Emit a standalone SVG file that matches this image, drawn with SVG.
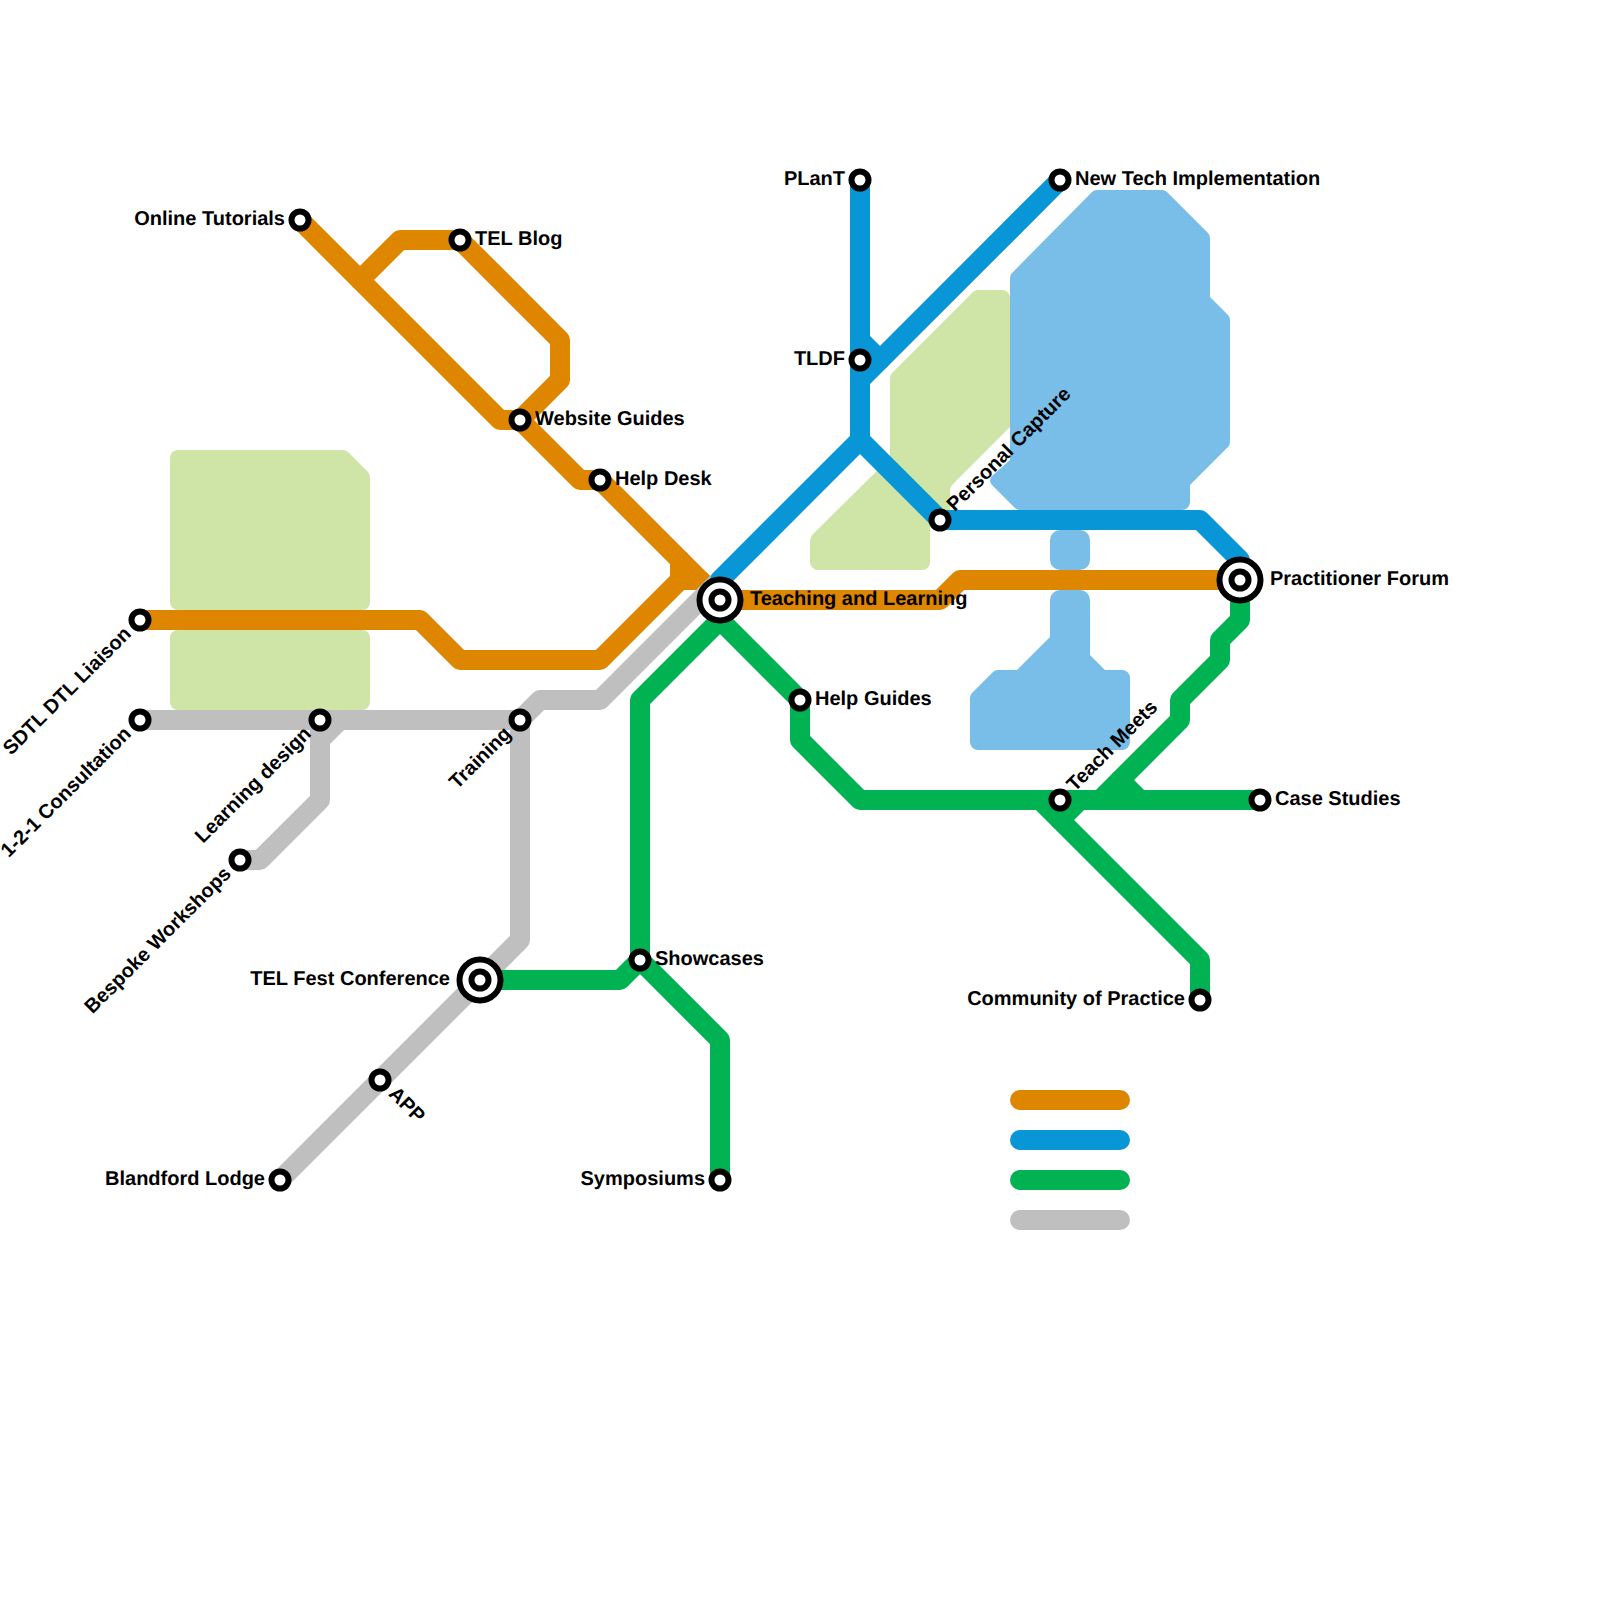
<svg xmlns="http://www.w3.org/2000/svg" width="1600" height="1600" viewBox="0 0 1600 1600">
<style>
.bg-g{fill:#cfe4a7}
.bg-b{fill:#79bde9}
.ln{fill:none;stroke-width:20;stroke-linejoin:round;stroke-linecap:round}
.or{stroke:#df8600}
.bl{stroke:#0896d7}
.gr{stroke:#00b251}
.gy{stroke:#bfbfbf}
.st{fill:#fff;stroke:#000;stroke-width:6}
text{font-family:"Liberation Sans",Arial,sans-serif;font-weight:700;font-size:20px;fill:#000;text-rendering:geometricPrecision}
.e{text-anchor:end}
</style>
<defs>
<g id="small"><circle class="st" r="8.5"/></g>
<g id="big"><circle class="st" r="20.5"/><circle class="st" r="8.5"/></g>
</defs>
<g id="backgrounds">
<path class="bg-g" d="M178,450H343Q346,450 348,452L367,471Q370,474 370,477V602A8,8 0 0 1 362,610H178A8,8 0 0 1 170,602V458A8,8 0 0 1 178,450Z"/>
<rect class="bg-g" x="170" y="630" width="200" height="80" rx="8"/>
<path class="bg-g" d="M973,292Q975,290 978,290H1002A8,8 0 0 1 1010,298V427L953,484Q950,487 950,490V515H930V562A8,8 0 0 1 922,570H818A8,8 0 0 1 810,562V541Q810,537 813,534L890,458V378Q890,375 892,373Z"/>
<path class="bg-b" d="M1092,192Q1094,190 1097,190H1162Q1165,190 1167,192L1208,233Q1210,235 1210,238V297L1228,315Q1230,317 1230,320V442Q1230,445 1228,447L1190,485V502A8,8 0 0 1 1182,510H1020Q1017,510 1015,508L992,485Q988,480 992,476L1010,460V278Q1010,275 1012,273Z"/>
<rect class="bg-b" x="1050" y="530" width="40" height="40" rx="10"/>
<path class="bg-b" d="M1060,590H1080A10,10 0 0 1 1090,600V655L1105,670H1122A8,8 0 0 1 1130,678V742A8,8 0 0 1 1122,750H978A8,8 0 0 1 970,742V698Q970,695 972,693L993,672Q995,670 998,670H1017L1050,637V600A10,10 0 0 1 1060,590Z"/>
</g>
<g id="connectors">
<path class="ln or" d="M140,620H420L460,660H600L680,580V560"/>
<path class="ln or" d="M300,220L500,420H520L580,480H600L720,600"/>
<path class="ln or" d="M680,580H700L720,600H940L960,580H1240"/>
<path class="ln or" d="M360,280L400,240H460L560,340V380L520,420"/>
<path class="ln gy" d="M140,720H520L540,700H600L720,580"/>
<path class="ln gy" d="M520,720V940L280,1180"/>
<path class="ln gy" d="M340,720L320,740V800L260,860H240"/>
<path class="ln gy" d="M320,720V740"/>
<path class="ln bl" d="M860,180V340L880,360L1060,180"/>
<path class="ln bl" d="M860,340V440L720,580V600"/>
<path class="ln bl" d="M860,380L880,360"/>
<path class="ln bl" d="M860,440L940,520H1200L1240,560V580"/>
<path class="ln gr" d="M720,600V620L640,700V960"/>
<path class="ln gr" d="M720,620L800,700V740L860,800H1040L1060,820"/>
<path class="ln gr" d="M1040,800H1260"/>
<path class="ln gr" d="M1080,800L1060,820L1200,960V1000"/>
<path class="ln gr" d="M1240,580V620L1220,640V660L1180,700V720L1100,800"/>
<path class="ln gr" d="M1120,780L1140,800"/>
<path class="ln gr" d="M480,980H620L640,960L720,1040V1180"/>
</g>
<g id="legend">
<path class="ln or" d="M1020,1100H1120"/>
<path class="ln bl" d="M1020,1140H1120"/>
<path class="ln gr" d="M1020,1180H1120"/>
<path class="ln gy" d="M1020,1220H1120"/>
</g>
<g id="n-sdtl"><use href="#small" x="140" y="620"/><text class="e" x="124" y="625" transform="rotate(-45 140 620)">SDTL DTL Liaison</text></g>
<g id="n-121"><use href="#small" x="140" y="720"/><text class="e" x="124" y="725" transform="rotate(-45 140 720)">1-2-1 Consultation</text></g>
<g id="n-learning"><use href="#small" x="320" y="720"/><text class="e" x="304" y="725" transform="rotate(-45 320 720)">Learning design</text></g>
<g id="n-training"><use href="#small" x="520" y="720"/><text class="e" x="504" y="725" transform="rotate(-45 520 720)">Training</text></g>
<g id="n-bespoke"><use href="#small" x="240" y="860"/><text class="e" x="224" y="865" transform="rotate(-45 240 860)">Bespoke Workshops</text></g>
<g id="n-online"><use href="#small" x="300" y="220"/><text class="e" x="285" y="225">Online Tutorials</text></g>
<g id="n-blog"><use href="#small" x="460" y="240"/><text x="475" y="245">TEL Blog</text></g>
<g id="n-website"><use href="#small" x="520" y="420"/><text x="535" y="425">Website Guides</text></g>
<g id="n-helpdesk"><use href="#small" x="600" y="480"/><text x="615" y="485">Help Desk</text></g>
<g id="n-teaching"><use href="#big" x="720" y="600"/><text x="750" y="605">Teaching and Learning</text></g>
<g id="n-practitioner"><use href="#big" x="1240" y="580"/><text x="1270" y="585">Practitioner Forum</text></g>
<g id="n-plant"><use href="#small" x="860" y="180"/><text class="e" x="845" y="185">PLanT</text></g>
<g id="n-tldf"><use href="#small" x="860" y="360"/><text class="e" x="845" y="365">TLDF</text></g>
<g id="n-newtech"><use href="#small" x="1060" y="180"/><text x="1075" y="185">New Tech Implementation</text></g>
<g id="n-personal"><use href="#small" x="940" y="520"/><text x="956" y="525" transform="rotate(-45 940 520)">Personal Capture</text></g>
<g id="n-helpguides"><use href="#small" x="800" y="700"/><text x="815" y="705">Help Guides</text></g>
<g id="n-teachmeets"><use href="#small" x="1060" y="800"/><text x="1076" y="805" transform="rotate(-45 1060 800)">Teach Meets</text></g>
<g id="n-case"><use href="#small" x="1260" y="800"/><text x="1275" y="805">Case Studies</text></g>
<g id="n-community"><use href="#small" x="1200" y="1000"/><text class="e" x="1185" y="1005">Community of Practice</text></g>
<g id="n-showcases"><use href="#small" x="640" y="960"/><text x="655" y="965">Showcases</text></g>
<g id="n-symposiums"><use href="#small" x="720" y="1180"/><text class="e" x="705" y="1185">Symposiums</text></g>
<g id="n-telfest"><use href="#big" x="480" y="980"/><text class="e" x="450" y="985">TEL Fest Conference</text></g>
<g id="n-app"><use href="#small" x="380" y="1080"/><text x="396" y="1085" transform="rotate(45 380 1080)">APP</text></g>
<g id="n-blandford"><use href="#small" x="280" y="1180"/><text class="e" x="265" y="1185">Blandford Lodge</text></g>
</svg>
